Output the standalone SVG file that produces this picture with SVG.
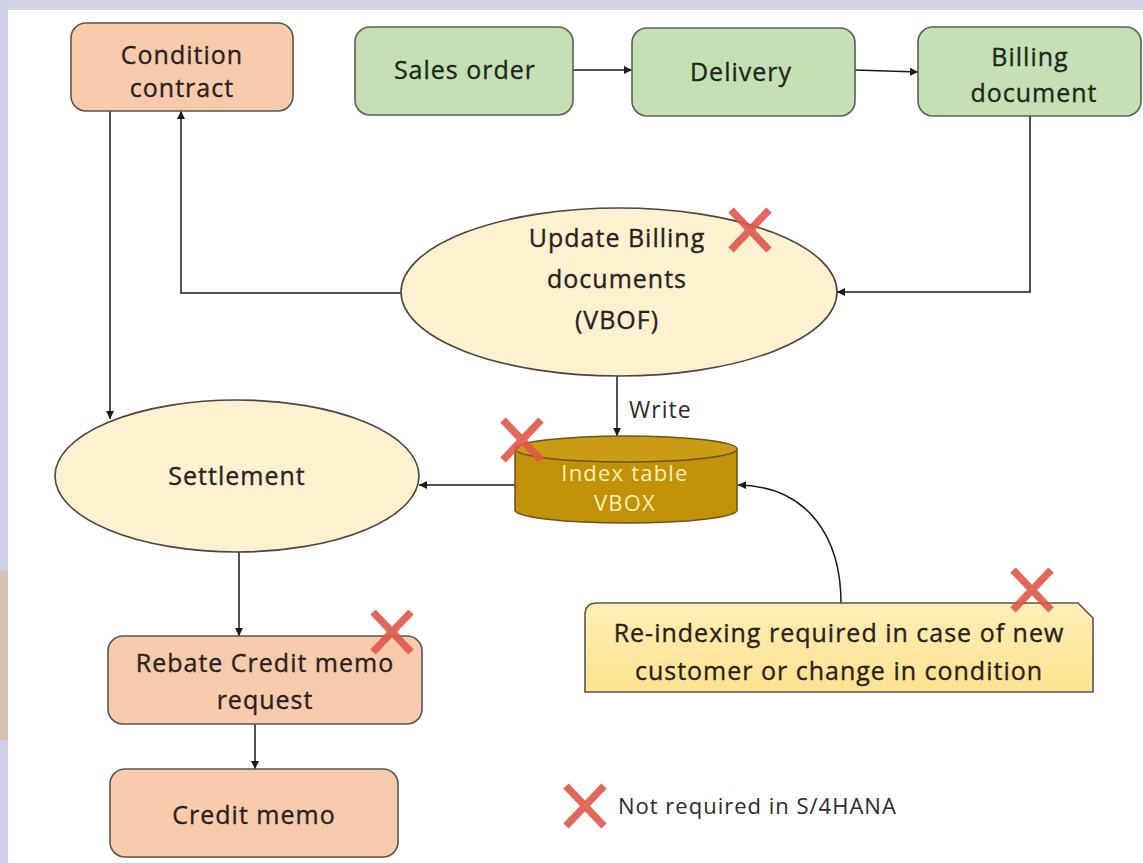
<svg xmlns="http://www.w3.org/2000/svg" width="1143" height="863" viewBox="0 0 1143 863">
  <defs>
    <marker id="arrow" viewBox="0 0 10 10" refX="10" refY="5" markerWidth="8" markerHeight="8" markerUnits="userSpaceOnUse" orient="auto">
      <path d="M0,0 L10,5 L0,10 z" fill="#1a1a1a"/>
    </marker>
    <linearGradient id="noteFill" x1="0" y1="0" x2="0" y2="1">
      <stop offset="0" stop-color="#feefb6"/>
      <stop offset="1" stop-color="#fde290"/>
    </linearGradient>
    <g id="cross">
      <line x1="-19" y1="-20" x2="19" y2="20"/>
      <line x1="19" y1="-20" x2="-19" y2="20"/>
    </g>
  </defs>
  <style>
    .txt { font-family: "Open Sans", "Liberation Sans", sans-serif; font-size: 25px; text-anchor: middle; letter-spacing: 1px; stroke-width: 0.35px; }
    .dark { fill: #2b211c; stroke: #2b211c; }
    .green { fill: #1c2818; stroke: #1c2818; }
    .peach { fill: #f8cbad; stroke: #5a5552; stroke-width: 1.6; }
    .leaf { fill: #c5e0b4; stroke: #5a5f58; stroke-width: 1.6; }
    .oval { fill: #fdf1d0; stroke: #4a4640; stroke-width: 1.6; }
    .wire { fill: none; stroke: #1a1a1a; stroke-width: 1.5; }
    .cross { stroke: #e0574a; stroke-width: 7.5; stroke-linecap: butt; opacity: 0.9; }
    .plain { font-family: "Open Sans", "Liberation Sans", sans-serif; fill: #2b2b2b; letter-spacing: 1px; }
    .drum { font-family: "Open Sans", "Liberation Sans", sans-serif; font-size: 22px; letter-spacing: 1.2px; text-anchor: middle; fill: #fbeeb8; }
  </style>

  <!-- page background with frame strips -->
  <rect x="0" y="0" width="1143" height="863" fill="#ffffff"/>
  <rect x="0" y="0" width="1143" height="10" fill="#d3d4ea"/>
  <rect x="0" y="0" width="8" height="863" fill="#cfd0e8"/>
  <rect x="0" y="570" width="8" height="170" fill="#d5c3b6"/>

  <!-- connectors -->
  <g id="connectors">
    <line class="wire" x1="573" y1="70" x2="632" y2="70" marker-end="url(#arrow)"/>
    <line class="wire" x1="855" y1="70" x2="918" y2="72" marker-end="url(#arrow)"/>
    <polyline class="wire" points="1030,116 1030,292 837,292" marker-end="url(#arrow)"/>
    <polyline class="wire" points="401,293 181,293 181,111" marker-end="url(#arrow)"/>
    <line class="wire" x1="110" y1="111" x2="110" y2="419" marker-end="url(#arrow)"/>
    <line class="wire" x1="617" y1="376" x2="617" y2="436" marker-end="url(#arrow)"/>
    <line class="wire" x1="515" y1="485" x2="419" y2="485" marker-end="url(#arrow)"/>
    <path class="wire" d="M841,603 C841,540 810,486 738,485" marker-end="url(#arrow)"/>
    <line class="wire" x1="239" y1="552" x2="239" y2="636" marker-end="url(#arrow)"/>
    <line class="wire" x1="255" y1="724" x2="255" y2="769" marker-end="url(#arrow)"/>
    <text class="plain" x="629" y="418" font-size="23">Write</text>
  </g>

  <g id="condition-contract">
    <rect class="peach" x="71" y="23" width="222" height="88" rx="15"/>
    <text class="txt dark" x="182" y="64">Condition</text>
    <text class="txt dark" x="182" y="97">contract</text>
  </g>

  <g id="sales-order">
    <rect class="leaf" x="355" y="27" width="218" height="88" rx="15"/>
    <text class="txt green" x="465" y="79">Sales order</text>
  </g>

  <g id="delivery">
    <rect class="leaf" x="632" y="28" width="223" height="88" rx="15"/>
    <text class="txt green" x="741" y="81">Delivery</text>
  </g>

  <g id="billing-document">
    <rect class="leaf" x="918" y="27" width="223" height="89" rx="15"/>
    <text class="txt green" x="1030" y="66">Billing</text>
    <text class="txt green" x="1034" y="102">document</text>
  </g>

  <g id="update-billing">
    <ellipse class="oval" cx="619" cy="292" rx="218" ry="84"/>
    <text class="txt dark" x="617" y="247">Update Billing</text>
    <text class="txt dark" x="617" y="288">documents</text>
    <text class="txt dark" x="617" y="329">(VBOF)</text>
    <use href="#cross" class="cross" x="750" y="230"/>
  </g>

  <g id="settlement">
    <ellipse class="oval" cx="237" cy="476" rx="182" ry="76"/>
    <text class="txt dark" x="237" y="485">Settlement</text>
  </g>

  <g id="index-table">
    <path d="M515,449 L515,510 A111,13 0 0 0 737,510 L737,449" fill="#c19208" stroke="#6b5420" stroke-width="1.6"/>
    <ellipse cx="626" cy="449" rx="111" ry="13" fill="#c99c14" stroke="#6b5420" stroke-width="1.6"/>
    <text class="drum" x="625" y="481">Index table</text>
    <text class="drum" x="625" y="511">VBOX</text>
    <use href="#cross" class="cross" x="522" y="440"/>
  </g>

  <g id="reindex-note">
    <path d="M597,603 L1078,603 L1093,618 L1093,692 L585,692 L585,615 Q585,603 597,603 Z" fill="url(#noteFill)" stroke="#5a5548" stroke-width="1.6"/>
    <text class="txt dark" x="839" y="642">Re-indexing required in case of new</text>
    <text class="txt dark" x="839" y="680">customer or change in condition</text>
    <use href="#cross" class="cross" x="1032" y="590"/>
  </g>

  <g id="rebate-request">
    <rect class="peach" x="108" y="636" width="314" height="88" rx="15"/>
    <text class="txt dark" x="265" y="672">Rebate Credit memo</text>
    <text class="txt dark" x="265" y="709">request</text>
    <use href="#cross" class="cross" x="392" y="632"/>
  </g>

  <g id="credit-memo">
    <rect class="peach" x="110" y="769" width="288" height="88" rx="15"/>
    <text class="txt dark" x="254" y="824">Credit memo</text>
  </g>

  <g id="legend">
    <use href="#cross" class="cross" x="585" y="806"/>
    <text class="plain" x="618" y="814" font-size="22">Not required in S/4HANA</text>
  </g>
</svg>
